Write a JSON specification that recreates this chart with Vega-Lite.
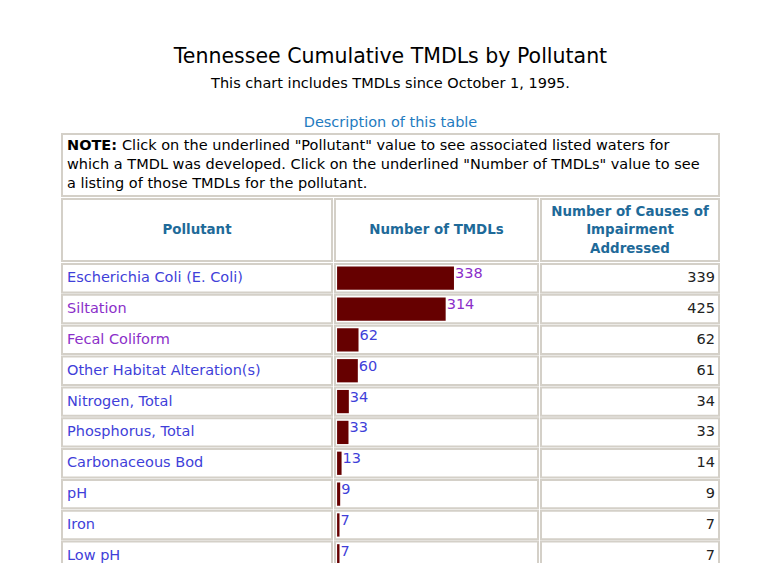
{
  "$schema": "https://vega.github.io/schema/vega-lite/v6.json",
  "background": "white",
  "padding": {"left": 61, "top": 46, "right": 0, "bottom": 0},
  "config": {
    "font": "DejaVu Sans",
    "view": {"stroke": null},
    "title": {"font": "DejaVu Sans"}
  },
  "title": {
    "text": "Tennessee Cumulative TMDLs by Pollutant",
    "subtitle": "This chart includes TMDLs since October 1, 1995.",
    "fontSize": 20.5,
    "fontWeight": "normal",
    "color": "#000000",
    "subtitleFontSize": 14.5,
    "subtitleColor": "#000000",
    "subtitlePadding": 10,
    "anchor": "middle",
    "offset": 23
  },
  "datasets": {
    "rows": [
      {"pollutant": "Escherichia Coli (E. Coli)", "tmdls": 338, "causes": 339, "nameVisited": "no", "countVisited": "yes"},
      {"pollutant": "Siltation", "tmdls": 314, "causes": 425, "nameVisited": "yes", "countVisited": "yes"},
      {"pollutant": "Fecal Coliform", "tmdls": 62, "causes": 62, "nameVisited": "yes", "countVisited": "no"},
      {"pollutant": "Other Habitat Alteration(s)", "tmdls": 60, "causes": 61, "nameVisited": "no", "countVisited": "no"},
      {"pollutant": "Nitrogen, Total", "tmdls": 34, "causes": 34, "nameVisited": "no", "countVisited": "no"},
      {"pollutant": "Phosphorus, Total", "tmdls": 33, "causes": 33, "nameVisited": "no", "countVisited": "no"},
      {"pollutant": "Carbonaceous Bod", "tmdls": 13, "causes": 14, "nameVisited": "no", "countVisited": "no"},
      {"pollutant": "pH", "tmdls": 9, "causes": 9, "nameVisited": "no", "countVisited": "no"},
      {"pollutant": "Iron", "tmdls": 7, "causes": 7, "nameVisited": "no", "countVisited": "no"},
      {"pollutant": "Low pH", "tmdls": 7, "causes": 7, "nameVisited": "no", "countVisited": "no"}
    ],
    "note": [
      {"line": 1, "lead": "NOTE:", "text": "Click on the underlined \"Pollutant\" value to see associated listed waters for"},
      {"line": 2, "lead": "", "text": "which a TMDL was developed. Click on the underlined \"Number of TMDLs\" value to see"},
      {"line": 3, "lead": "", "text": "a listing of those TMDLs for the pollutant."}
    ]
  },
  "spacing": 1,
  "vconcat": [
    {
      "title": {"text": "Description of this table", "color": "#1f7bc0", "fontSize": 14.5, "fontWeight": "normal", "anchor": "middle", "offset": 4},
      "width": 657,
      "height": 62,
      "view": {"stroke": "#d4d0c8", "strokeWidth": 2, "fill": "white"},
      "data": {"name": "note"},
      "encoding": {
        "x": {"datum": 0, "type": "quantitative", "scale": {"domain": [0, 1]}, "axis": null},
        "y": {"field": "line", "type": "ordinal", "axis": null, "scale": {"type": "point", "padding": 0.63}}
      },
      "layer": [
        {
          "transform": [{"filter": "datum.line == 1"}],
          "mark": {"type": "text", "align": "left", "baseline": "middle", "dx": 5, "fontSize": 14.5, "fontWeight": "bold", "color": "#000000"},
          "encoding": {"text": {"field": "lead"}}
        },
        {
          "transform": [{"filter": "datum.line == 1"}],
          "mark": {"type": "text", "align": "left", "baseline": "middle", "dx": 60, "fontSize": 14.5, "color": "#000000"},
          "encoding": {"text": {"field": "text"}}
        },
        {
          "transform": [{"filter": "datum.line > 1"}],
          "mark": {"type": "text", "align": "left", "baseline": "middle", "dx": 5, "fontSize": 14.5, "color": "#000000"},
          "encoding": {"text": {"field": "text"}}
        }
      ]
    },
    {
      "spacing": 1,
      "vconcat": [
        {
          "spacing": 3,
          "bounds": "flush",
          "hconcat": [
            {
              "width": 270, "height": 62,
              "view": {"stroke": "#d4d0c8", "strokeWidth": 2, "fill": "white"},
              "data": {"values": [{"label": "Pollutant"}]},
              "mark": {"type": "text", "align": "center", "baseline": "middle", "fontSize": 13.4, "fontWeight": "bold", "color": "#1e6a99"},
              "encoding": {
                "x": {"datum": 0.5, "type": "quantitative", "scale": {"domain": [0, 1]}, "axis": null},
                "y": {"datum": 0.5, "type": "quantitative", "scale": {"domain": [0, 1]}, "axis": null},
                "text": {"field": "label"}
              }
            },
            {
              "width": 203, "height": 62,
              "view": {"stroke": "#d4d0c8", "strokeWidth": 2, "fill": "white"},
              "data": {"values": [{"label": "Number of TMDLs"}]},
              "mark": {"type": "text", "align": "center", "baseline": "middle", "fontSize": 13.4, "fontWeight": "bold", "color": "#1e6a99"},
              "encoding": {
                "x": {"datum": 0.5, "type": "quantitative", "scale": {"domain": [0, 1]}, "axis": null},
                "y": {"datum": 0.5, "type": "quantitative", "scale": {"domain": [0, 1]}, "axis": null},
                "text": {"field": "label"}
              }
            },
            {
              "width": 178, "height": 62,
              "view": {"stroke": "#d4d0c8", "strokeWidth": 2, "fill": "white"},
              "data": {"values": [{"label": ["Number of Causes of", "Impairment", "Addressed"]}]},
              "mark": {"type": "text", "align": "center", "baseline": "middle", "dy": -18.5, "fontSize": 13.4, "fontWeight": "bold", "lineHeight": 18.5, "color": "#1e6a99"},
              "encoding": {
                "x": {"datum": 0.5, "type": "quantitative", "scale": {"domain": [0, 1]}, "axis": null},
                "y": {"datum": 0.5, "type": "quantitative", "scale": {"domain": [0, 1]}, "axis": null},
                "text": {"field": "label"}
              }
            }
          ]
        },
        {
          "spacing": 3,
          "bounds": "flush",
          "hconcat": [
            {
              "width": 270, "height": 306,
              "data": {"name": "rows"},
              "encoding": {
                "y": {"field": "pollutant", "type": "nominal", "sort": null, "axis": null, "scale": {"paddingInner": 0.08, "paddingOuter": 0}}
              },
              "layer": [
                {
                  "mark": {"type": "rect", "fill": "white", "stroke": "#d4d0c8", "strokeWidth": 2},
                  "encoding": {
                    "x": {"datum": 0, "type": "quantitative", "scale": {"domain": [0, 1]}, "axis": null},
                    "x2": {"datum": 1}
                  }
                },
                {
                  "mark": {"type": "text", "align": "left", "baseline": "middle", "dx": 5, "fontSize": 14.5},
                  "encoding": {
                    "x": {"datum": 0, "type": "quantitative"},
                    "text": {"field": "pollutant"},
                    "color": {"field": "nameVisited", "type": "nominal", "scale": {"domain": ["no", "yes"], "range": ["#3f3fd9", "#8b2fc9"]}, "legend": null}
                  }
                }
              ]
            },
            {
              "width": 203, "height": 306,
              "data": {"name": "rows"},
              "encoding": {
                "y": {"field": "pollutant", "type": "nominal", "sort": null, "axis": null, "scale": {"paddingInner": 0.08, "paddingOuter": 0}}
              },
              "layer": [
                {
                  "mark": {"type": "rect", "fill": "white", "stroke": "#d4d0c8", "strokeWidth": 2},
                  "encoding": {
                    "x": {"datum": -6, "type": "quantitative", "scale": {"domain": [-6, 581], "nice": false, "zero": false}, "axis": null},
                    "x2": {"datum": 581}
                  }
                },
                {
                  "mark": {"type": "bar", "color": "#660000", "height": {"band": 0.82}},
                  "encoding": {
                    "x": {"field": "tmdls", "type": "quantitative"}
                  }
                },
                {
                  "mark": {"type": "text", "align": "left", "baseline": "middle", "dx": 1, "dy": -4, "fontSize": 14.5},
                  "encoding": {
                    "x": {"field": "tmdls", "type": "quantitative"},
                    "text": {"field": "tmdls", "type": "quantitative"},
                    "color": {"field": "countVisited", "type": "nominal", "scale": {"domain": ["no", "yes"], "range": ["#3f3fd9", "#8b2fc9"]}, "legend": null}
                  }
                }
              ]
            },
            {
              "width": 178, "height": 306,
              "data": {"name": "rows"},
              "encoding": {
                "y": {"field": "pollutant", "type": "nominal", "sort": null, "axis": null, "scale": {"paddingInner": 0.08, "paddingOuter": 0}}
              },
              "layer": [
                {
                  "mark": {"type": "rect", "fill": "white", "stroke": "#d4d0c8", "strokeWidth": 2},
                  "encoding": {
                    "x": {"datum": 0, "type": "quantitative", "scale": {"domain": [0, 1]}, "axis": null},
                    "x2": {"datum": 1}
                  }
                },
                {
                  "mark": {"type": "text", "align": "right", "baseline": "middle", "dx": -4, "fontSize": 14.5, "color": "#222222"},
                  "encoding": {
                    "x": {"datum": 1, "type": "quantitative"},
                    "text": {"field": "causes", "type": "quantitative"}
                  }
                }
              ]
            }
          ]
        }
      ]
    }
  ]
}
